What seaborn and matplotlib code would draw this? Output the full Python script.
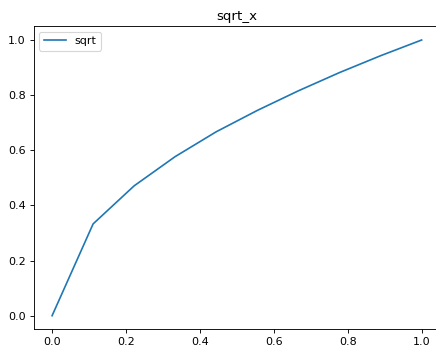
import matplotlib
matplotlib.use('agg')
import matplotlib.pyplot as plt
import seaborn as sns
import pandas as pd

# values
x_vals = [0.0, 0.111, 0.222, 0.333, 0.444, 0.556, 0.667, 0.778, 0.889, 1.0]
y_vals = [0.0, 0.333, 0.471, 0.577, 0.667, 0.745, 0.816, 0.882, 0.943, 1.0]

df = pd.DataFrame({'x': x_vals, 'y': y_vals})

# text in the reference is about 80 dpi; right spine falls just outside the crop
fig = plt.figure(figsize=(436 / 80, 350 / 80), dpi=80)
ax = fig.add_axes([0.0771, 0.0586, 1.0094 - 0.0771, 0.9251 - 0.0586])
sns.lineplot(data=df, x='x', y='y', ax=ax, label='sqrt', color='#1f77b4')
ax.set_title('sqrt_x')
ax.set_xlabel('')
ax.set_ylabel('')
ax.legend(loc='upper left')
ax.set_xticks([0.0, 0.2, 0.4, 0.6, 0.8, 1.0])
ax.set_yticks([0.0, 0.2, 0.4, 0.6, 0.8, 1.0])
plt.savefig('out.png', dpi=80)
plt.close()
